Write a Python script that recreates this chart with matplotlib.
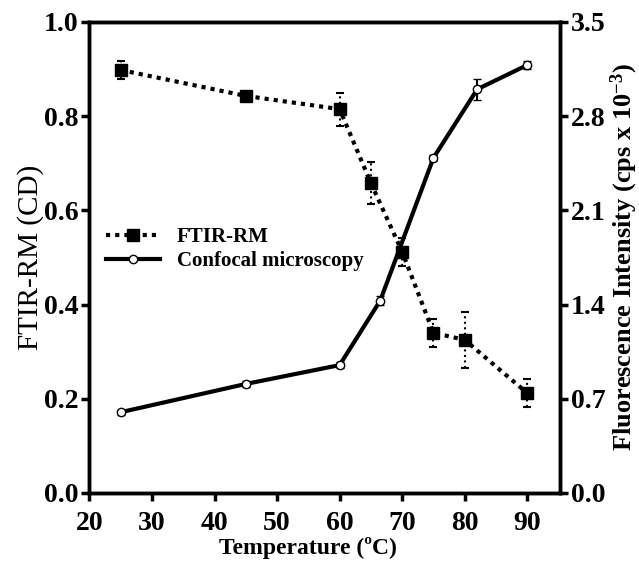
import matplotlib
matplotlib.use("Agg")
import matplotlib.pyplot as plt
from matplotlib.lines import Line2D

# FTIR-RM (left axis)
temp_ftir = [25, 45, 60, 65, 70, 75, 80, 90]
ftir = [0.898, 0.843, 0.815, 0.658, 0.512, 0.340, 0.325, 0.212]
ftir_err = [0.02, 0.005, 0.035, 0.045, 0.03, 0.03, 0.06, 0.03]

# Confocal microscopy (right axis)
temp_conf = [25, 45, 60, 66.5, 75, 82, 90]
conf = [0.60, 0.81, 0.95, 1.43, 2.49, 3.00, 3.18]
conf_err = [0.02, 0.02, 0.02, 0.03, 0.02, 0.08, 0.03]

plt.rcParams["font.family"] = ["Liberation Serif", "DejaVu Serif"]
plt.rcParams["font.weight"] = "bold"
plt.rcParams["mathtext.fontset"] = "custom"
plt.rcParams["mathtext.rm"] = "Liberation Serif"
plt.rcParams["mathtext.default"] = "regular"

fig, ax = plt.subplots(figsize=(6.39, 5.64), dpi=100)
fig.subplots_adjust(left=0.14, right=0.876, top=0.961, bottom=0.126)
ax2 = ax.twinx()

l1 = ax.errorbar(temp_ftir, ftir, yerr=ftir_err, color="black", ls=(0, (1, 1.2)), lw=3,
                 marker="s", ms=8, capsize=3, elinewidth=1.5, capthick=1.5)
for bar in l1[2]:
    bar.set_linestyle(":")
l2 = ax2.errorbar(temp_conf, conf, yerr=conf_err, color="black", ls="-", lw=3,
                  marker="o", ms=6, mfc="white", mec="black", mew=1, capsize=3,
                  elinewidth=1.5, capthick=1.5)

ax.set_xlim(20, 95.2)
ax.set_ylim(0, 1.0)
ax2.set_ylim(0, 3.5)
ax.set_xticks([20, 30, 40, 50, 60, 70, 80, 90])
ax.set_yticks([0.0, 0.2, 0.4, 0.6, 0.8, 1.0])
ax2.set_yticks([0.0, 0.7, 1.4, 2.1, 2.8, 3.5])
ax.set_yticklabels(["0.0", "0.2", "0.4", "0.6", "0.8", "1.0"])
ax2.set_yticklabels(["0.0", "0.7", "1.4", "2.1", "2.8", "3.5"])

for a in (ax, ax2):
    for s in a.spines.values():
        s.set_linewidth(2.5)
    a.tick_params(direction="out", length=6, width=2.5, labelsize=20, pad=2)
ax.tick_params(axis="x", pad=7)

ax.set_xlabel("Temperature (ºC)", fontsize=17, fontweight="bold", labelpad=1)
ax.xaxis.label.set_x(0.465)
ax.set_ylabel("FTIR-RM (CD)", fontsize=21, fontweight="normal", labelpad=0)
ax2.set_ylabel("Fluorescence Intensity (cps x 10$^{-3}$)", fontsize=19,
               fontweight="bold", labelpad=2)

h1 = Line2D([], [], color="black", ls=(0, (1, 1.2)), lw=3, marker="s", ms=8)
h2 = Line2D([], [], color="black", ls="-", lw=3, marker="o", ms=6, mfc="white", mew=1)
ax.legend([h1, h2], ["FTIR-RM", "Confocal microscopy"], loc="upper left",
          bbox_to_anchor=(0.0, 0.6), frameon=False, fontsize=15,
          handlelength=2.6, borderpad=0.3, labelspacing=0.2, handletextpad=0.8)

fig.savefig("out.png", dpi=100)
